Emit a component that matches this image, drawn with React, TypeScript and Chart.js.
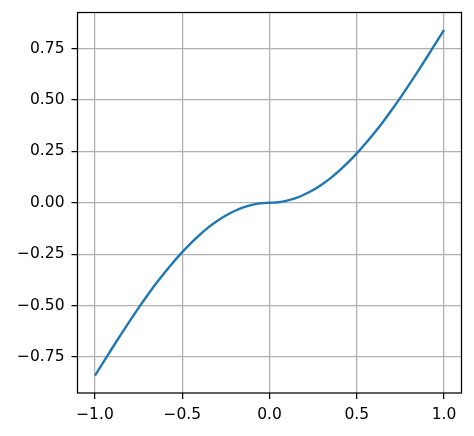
import React, { useEffect, useRef } from "react";
import { Chart, registerables } from "chart.js";

Chart.register(...registerables);

const xValues = [
  -1.0, -0.95, -0.9, -0.85, -0.8, -0.75, -0.7, -0.65, -0.6, -0.55, -0.5,
  -0.45, -0.4, -0.35, -0.3, -0.25, -0.2, -0.15, -0.1, -0.05, 0.0,
  0.05, 0.1, 0.15, 0.2, 0.25, 0.3, 0.35, 0.4, 0.45, 0.5,
  0.55, 0.6, 0.65, 0.7, 0.75, 0.8, 0.85, 0.9, 0.95, 1.0,
];
const yValues = [
  -0.841, -0.773, -0.705, -0.639, -0.574, -0.511, -0.451, -0.393, -0.339, -0.288, -0.240,
  -0.196, -0.156, -0.120, -0.089, -0.062, -0.040, -0.022, -0.010, -0.0025, 0.0,
  0.0025, 0.010, 0.022, 0.040, 0.062, 0.089, 0.120, 0.156, 0.196, 0.240,
  0.288, 0.339, 0.393, 0.451, 0.511, 0.574, 0.639, 0.705, 0.773, 0.841,
];
const xTicks = [-1.0, -0.5, 0.0, 0.5, 1.0];
const yTicks = [-0.75, -0.5, -0.25, 0.0, 0.25, 0.5, 0.75];

const FONT = { family: "'DejaVu Sans', sans-serif", size: 15.5 };

const frame = {
  id: "frame",
  afterDraw(chart: any) {
    const { ctx, chartArea: a } = chart;
    ctx.save();
    ctx.strokeStyle = "#000";
    ctx.lineWidth = 1.25;
    ctx.strokeRect(a.left, a.top, a.right - a.left, a.bottom - a.top);
    ctx.restore();
  },
};

const fmt = (v: number, d: number) => v.toFixed(d).replace("-", "\u2212");

export default function App() {
  const ref = useRef<HTMLCanvasElement>(null);
  useEffect(() => {
    if (!ref.current) return;
    const chart = new Chart(ref.current, {
      type: "line",
      data: {
        datasets: [
          {
            data: xValues.map((x, i) => ({ x, y: yValues[i] })),
            borderColor: "#1f77b4",
            borderWidth: 2.4,
            pointRadius: 0,
            fill: false,
            cubicInterpolationMode: "monotone",
          },
        ],
      },
      options: {
        animation: false,
        responsive: false,
        layout: { padding: { left: 0, top: 12.5, right: 12.5, bottom: 0 } },
        plugins: { legend: { display: false }, tooltip: { enabled: false } },
        scales: {
          x: {
            type: "linear",
            min: -1.1,
            max: 1.1,
            afterBuildTicks: (s: any) => {
              s.ticks = xTicks.map((v) => ({ value: v }));
            },
            afterFit: (s: any) => {
              s.height = 43;
              s.paddingLeft = 0;
              s.paddingRight = 0;
            },
            ticks: {
              callback: (v: any) => fmt(Number(v), 1),
              color: "#000",
              font: FONT,
              padding: 7,
              maxRotation: 0,
            },
            grid: {
              color: "#b0b0b0",
              lineWidth: 1.25,
              tickColor: "#000",
              tickLength: 6,
              drawTicks: true,
            },
            border: { display: false },
          },
          y: {
            type: "linear",
            min: -0.925,
            max: 0.925,
            afterBuildTicks: (s: any) => {
              s.ticks = yTicks.map((v) => ({ value: v }));
            },
            afterFit: (s: any) => {
              s.width = 77.5;
              s.paddingTop = 0;
              s.paddingBottom = 0;
            },
            ticks: {
              callback: (v: any) => fmt(Number(v), 2),
              color: "#000",
              font: FONT,
              padding: 7,
            },
            grid: {
              color: "#b0b0b0",
              lineWidth: 1.25,
              tickColor: "#000",
              tickLength: 6,
              drawTicks: true,
            },
            border: { display: false },
          },
        },
      },
      plugins: [frame],
    } as any);
    return () => chart.destroy();
  }, []);
  return (
    <div style={{ position: "fixed", left: 0, top: 0, width: 474, height: 436, background: "#fff" }}>
      <canvas ref={ref} width={474} height={436} style={{ display: "block" }} />
    </div>
  );
}
